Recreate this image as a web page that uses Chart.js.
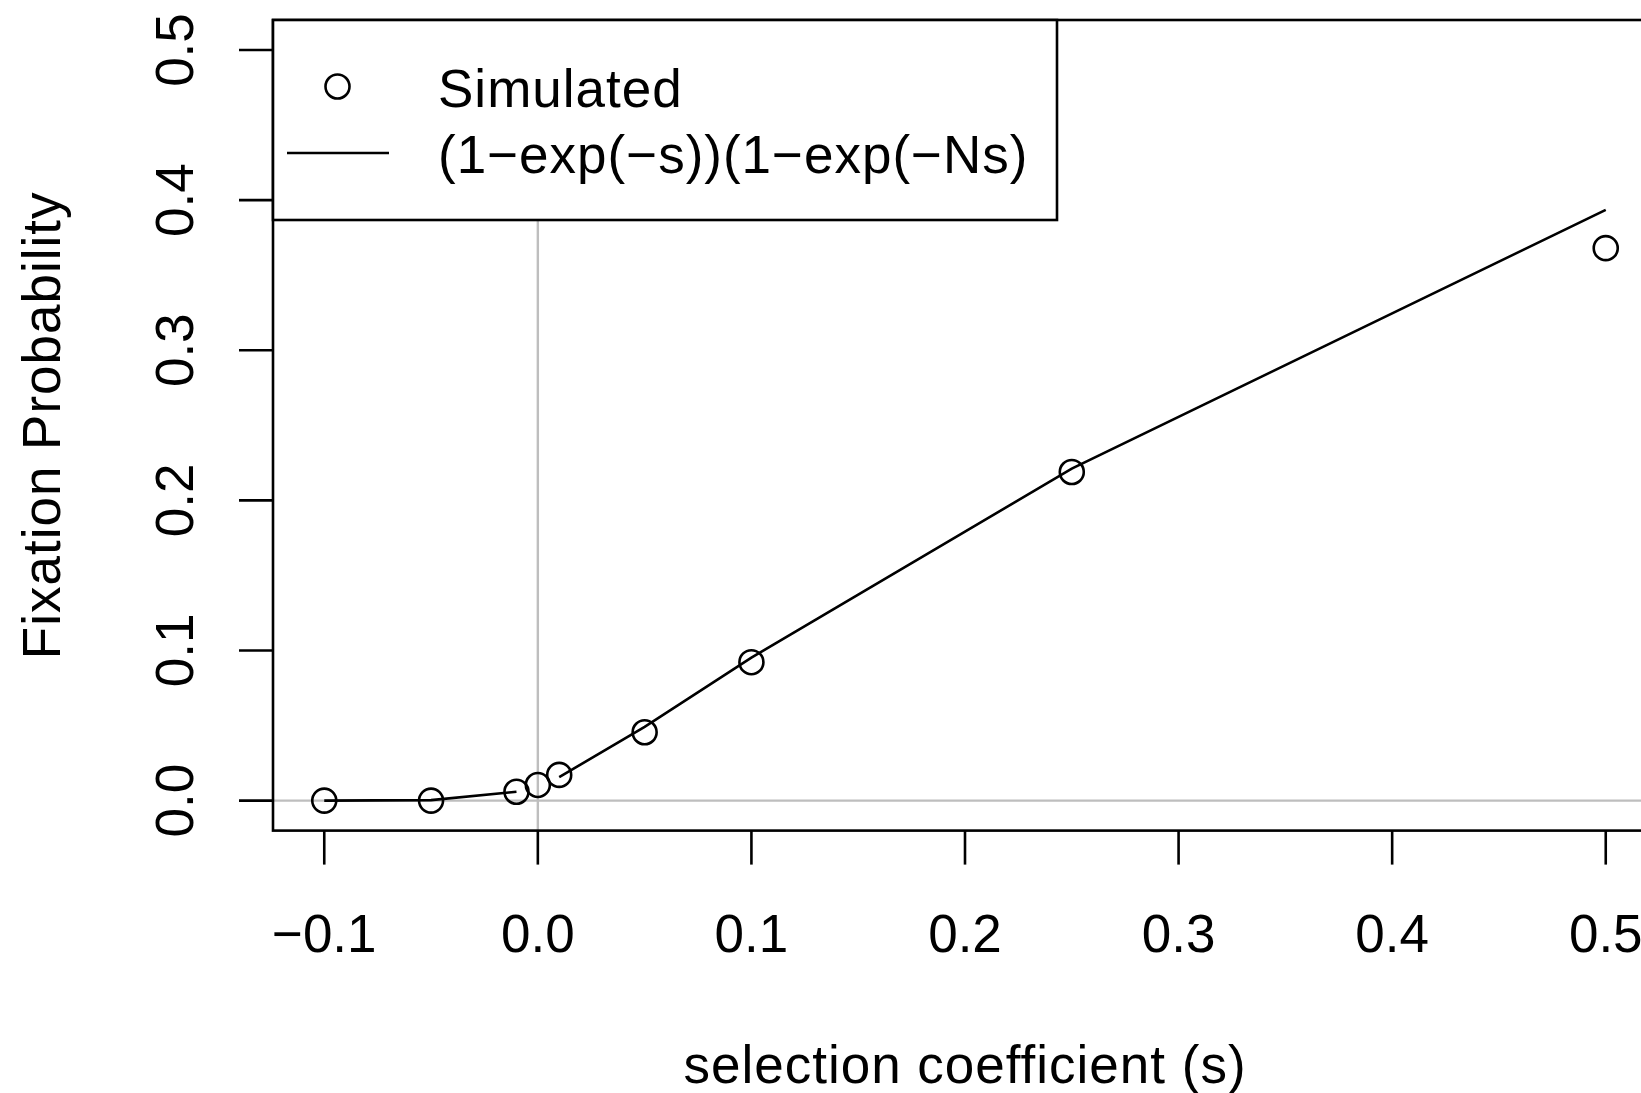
<!DOCTYPE html>
<html>
<head>
<meta charset="utf-8">
<title>Fixation Probability vs selection coefficient</title>
<script src="https://cdn.jsdelivr.net/npm/chart.js@4/dist/chart.umd.min.js"></script>
<style>
  html, body { margin: 0; padding: 0; background: #ffffff; overflow: hidden; }
  #wrap { position: absolute; left: 0; top: 0; width: 1700px; height: 1093px; }
</style>
</head>
<body>
<div id="wrap"><canvas id="chart" width="1700" height="1093"></canvas></div>
<script>
// Selection coefficients used in the simulation
const sValues = [-0.1, -0.05, -0.01, 0, 0.01, 0.05, 0.1, 0.25, 0.5];
// Simulated fixation probabilities
const simulated = [0.0, 0.0, 0.0059, 0.0104, 0.0171, 0.0455, 0.0922, 0.2189, 0.368];
// Theoretical curve (undefined at s = 0, so a gap is left there)
const theory = [0.0, 0.0003, 0.0059, null, 0.0157, 0.0491, 0.0952, 0.2212, 0.3935];

const xTicks = [-0.1, 0.0, 0.1, 0.2, 0.3, 0.4, 0.5];
const xTickLabels = ['\u22120.1', '0.0', '0.1', '0.2', '0.3', '0.4', '0.5'];
const yTicks = [0.0, 0.1, 0.2, 0.3, 0.4, 0.5];
const yTickLabels = ['0.0', '0.1', '0.2', '0.3', '0.4', '0.5'];

const xTitle = 'selection coefficient (s)';
const yTitle = 'Fixation Probability';
const legendLabels = ['Simulated', '(1\u2212exp(\u2212s))(1\u2212exp(\u2212Ns)'];

const FONT = '53px "Liberation Sans", Helvetica, Arial, sans-serif';
const LW = 2.6;

const pts = (ys) => sValues.map((s, i) => ({ x: s, y: ys[i] }));

// Base-graphics style frame: reference lines, box, ticks, labels and legend
const framePlugin = {
  id: 'frame',
  beforeDatasetsDraw(chart) {
    const { ctx, chartArea: a, scales: { x, y } } = chart;
    ctx.save();
    ctx.strokeStyle = '#bebebe';
    ctx.lineWidth = 2.4;
    const x0 = x.getPixelForValue(0), y0 = y.getPixelForValue(0);
    ctx.beginPath();
    ctx.moveTo(a.left, y0); ctx.lineTo(a.right, y0);
    ctx.moveTo(x0, a.top); ctx.lineTo(x0, a.bottom);
    ctx.stroke();
    ctx.restore();
  },
  afterDatasetsDraw(chart) {
    const { ctx, chartArea: a, scales: { x, y } } = chart;
    ctx.save();
    ctx.strokeStyle = '#000';
    ctx.fillStyle = '#000';
    ctx.lineWidth = LW;
    ctx.lineCap = 'butt';

    // plot box
    ctx.strokeRect(a.left, a.top, a.right - a.left, a.bottom - a.top);

    // x ticks and labels
    const tickLen = 34;
    ctx.font = FONT;
    ctx.textAlign = 'center';
    ctx.textBaseline = 'alphabetic';
    xTicks.forEach((v, i) => {
      const px = x.getPixelForValue(v);
      ctx.beginPath();
      ctx.moveTo(px, a.bottom); ctx.lineTo(px, a.bottom + tickLen);
      ctx.stroke();
      ctx.fillText(xTickLabels[i], px, 952);
    });

    // y ticks and rotated labels
    yTicks.forEach((v, i) => {
      const py = y.getPixelForValue(v);
      ctx.beginPath();
      ctx.moveTo(a.left, py); ctx.lineTo(a.left - tickLen, py);
      ctx.stroke();
      ctx.save();
      ctx.translate(193, py);
      ctx.rotate(-Math.PI / 2);
      ctx.fillText(yTickLabels[i], 0, 0);
      ctx.restore();
    });

    // axis titles (slightly wider letter spacing for the prose text)
    ctx.letterSpacing = '1px';
    ctx.fillText(xTitle, (a.left + a.right) / 2, 1083);
    ctx.save();
    ctx.translate(60, (a.top + a.bottom) / 2);
    ctx.rotate(-Math.PI / 2);
    ctx.fillText(yTitle, 0, 0);
    ctx.restore();

    // legend
    const lx = a.left, ly = a.top, lw = 784, lh = 200;
    ctx.fillStyle = '#fff';
    ctx.fillRect(lx, ly, lw, lh);
    ctx.strokeRect(lx, ly, lw, lh);
    ctx.fillStyle = '#000';
    ctx.beginPath();
    ctx.arc(lx + 64.5, ly + 66.5, 12, 0, Math.PI * 2);
    ctx.stroke();
    ctx.beginPath();
    ctx.moveTo(lx + 14, ly + 133); ctx.lineTo(lx + 116, ly + 133);
    ctx.stroke();
    ctx.textAlign = 'left';
    ctx.fillText(legendLabels[0], lx + 165, ly + 86.5);
    ctx.fillText(legendLabels[1], lx + 165, ly + 153);
    ctx.restore();
  }
};

new Chart(document.getElementById('chart'), {
  type: 'scatter',
  data: {
    datasets: [
      {
        label: legendLabels[1],
        data: pts(theory),
        showLine: true,
        spanGaps: false,
        borderColor: '#000',
        borderWidth: LW,
        pointRadius: 0,
        pointHoverRadius: 0,
        fill: false
      },
      {
        label: legendLabels[0],
        data: pts(simulated),
        showLine: false,
        pointStyle: 'circle',
        pointRadius: 12,
        pointHoverRadius: 12,
        pointBorderWidth: LW,
        pointBorderColor: '#000',
        pointBackgroundColor: 'rgba(0,0,0,0)',
        borderColor: '#000',
        backgroundColor: 'rgba(0,0,0,0)'
      }
    ]
  },
  options: {
    responsive: false,
    animation: false,
    devicePixelRatio: 1,
    layout: { padding: { left: 273, top: 20, right: 43, bottom: 262.4 } },
    plugins: { legend: { display: false }, tooltip: { enabled: false } },
    scales: {
      x: { type: 'linear', min: -0.124, max: 0.524, display: false },
      y: { type: 'linear', min: -0.02, max: 0.52, display: false }
    }
  },
  plugins: [framePlugin]
});
</script>
</body>
</html>
